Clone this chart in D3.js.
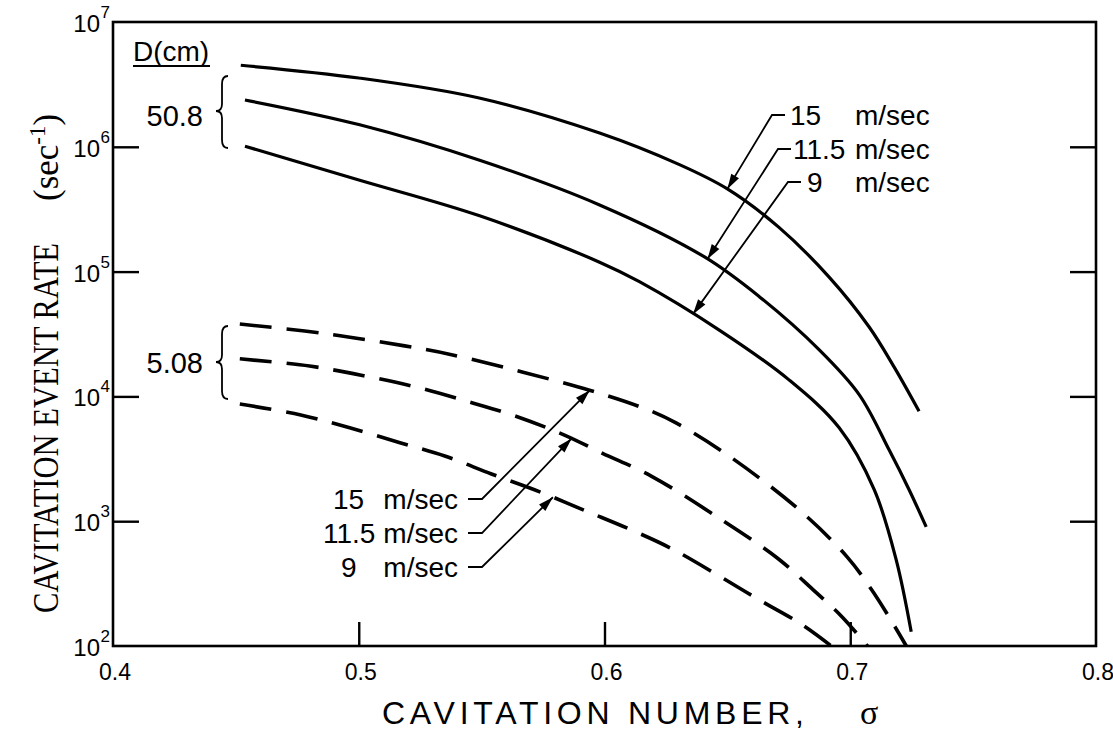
<!DOCTYPE html>
<html><head><meta charset="utf-8">
<script src="https://cdn.jsdelivr.net/npm/d3@7"></script>
<style>body{margin:0;background:#fff}</style>
</head><body><svg id="c" width="1113" height="741"></svg>
<script>
// ---------- data ----------
const xTicks = [0.4, 0.5, 0.6, 0.7, 0.8];
const xTickLabels = ["0.4", "0.5", "0.6", "0.7", "0.8"];
const yTicks = [1e2, 1e3, 1e4, 1e5, 1e6, 1e7];
const yTickExps = ["2", "3", "4", "5", "6", "7"];
const speeds = ["15", "11.5", "9"];
const diameters = ["50.8", "5.08"];

// D = 50.8 cm (solid)
const sigmaL15 = [0.452, 0.500, 0.549, 0.598, 0.6305, 0.650, 0.671, 0.6915, 0.7077, 0.718, 0.728];
const rateL15  = [4.5e6, 3.56e6, 2.46e6, 1.29e6, 7.2e5, 4.6e5, 2.26e5, 9.0e4, 3.6e4, 1.7e4, 7.6e3];
const sigmaL11 = [0.4537, 0.5004, 0.5492, 0.598, 0.6407, 0.663, 0.6874, 0.7037, 0.7159, 0.724, 0.7309];
const rateL11  = [2.37e6, 1.5e6, 7.8e5, 3.42e5, 1.31e5, 6.3e4, 2.36e4, 1.03e4, 3.7e3, 1.78e3, 9.0e2];
const sigmaL9  = [0.4537, 0.5004, 0.5492, 0.598, 0.6142, 0.6467, 0.6752, 0.6955, 0.7098, 0.7187, 0.7248];
const rateL9   = [1.01e6, 5.4e5, 2.8e5, 1.19e5, 8.3e4, 3.4e4, 1.35e4, 5.6e3, 1.78e3, 4.9e2, 1.3e2];

// D = 5.08 cm (dashed)
const sigmaS15 = [0.4516, 0.478, 0.4984, 0.5187, 0.5382, 0.5939, 0.617, 0.6293, 0.65, 0.6793, 0.6988, 0.7085, 0.717, 0.7228];
const rateS15  = [3.8e4, 3.34e4, 2.94e4, 2.54e4, 2.15e4, 1.12e4, 7.9e3, 6.1e3, 3.4e3, 1.23e3, 516, 286, 156, 100];
const sigmaS11 = [0.4516, 0.480, 0.5024, 0.5232, 0.5443, 0.5634, 0.5837, 0.5992, 0.619, 0.6447, 0.6703, 0.6846, 0.6967, 0.707];
const rateS11  = [2.0e4, 1.75e4, 1.46e4, 1.19e4, 9.1e3, 7.0e3, 4.9e3, 3.5e3, 2.3e3, 1.12e3, 507, 286, 171, 100];
const sigmaS9  = [0.4516, 0.4764, 0.4963, 0.5171, 0.535, 0.554, 0.574, 0.5923, 0.611, 0.6268, 0.646, 0.663, 0.680, 0.6923];
const rateS9   = [8.7e3, 7.1e3, 5.6e3, 4.24e3, 3.33e3, 2.39e3, 1.71e3, 1.21e3, 850, 610, 371, 234, 150, 100];

// arrow targets (sigma on each curve)
const arrowSigmaL = [0.650, 0.6419, 0.636];
const arrowSigmaS = [0.594, 0.5866, 0.579];

// ---------- chart ----------
const svg = d3.select("#c");
const L = 113, R = 1096, T = 22, B = 646;
const x = d3.scaleLinear().domain([0.4, 0.8]).range([L, R]);
const y = d3.scaleLog().domain([1e2, 1e7]).range([B, T]);
const sans = "'Liberation Sans', Arial, Helvetica, sans-serif";
const serif = "'Liberation Serif', 'Times New Roman', serif";

const zip = (s, r) => s.map((v, i) => ({s: v, r: r[i]}));
const line = d3.line().x(d => x(d.s)).y(d => y(d.r)).curve(d3.curveCatmullRom.alpha(0.5));

const plot = svg.append("g");
plot.selectAll("path.sol").data([zip(sigmaL15, rateL15), zip(sigmaL11, rateL11), zip(sigmaL9, rateL9)])
  .enter().append("path").attr("class", "sol").attr("d", line)
  .attr("fill", "none").attr("stroke", "#000").attr("stroke-width", 3.2);
plot.selectAll("path.dash").data([zip(sigmaS15, rateS15), zip(sigmaS11, rateS11), zip(sigmaS9, rateS9)])
  .enter().append("path").attr("class", "dash").attr("d", line)
  .attr("fill", "none").attr("stroke", "#000").attr("stroke-width", 3.6)
  .attr("stroke-dasharray", "32,15");

// frame
svg.append("rect").attr("x", L).attr("y", T).attr("width", R - L).attr("height", B - T)
  .attr("fill", "none").attr("stroke", "#000").attr("stroke-width", 2.6);

// axes (inward ticks)
const xAxis = d3.axisBottom(x).tickValues(xTicks.slice(1, -1)).tickSize(-24).tickFormat("");
const gx = svg.append("g").attr("transform", `translate(0,${B})`).call(xAxis);
const yAxisL = d3.axisLeft(y).tickValues(yTicks.slice(1, -1)).tickSize(-26).tickFormat("");
const gyl = svg.append("g").attr("transform", `translate(${L},0)`).call(yAxisL);
const yAxisR = d3.axisRight(y).tickValues(yTicks.slice(1, -1)).tickSize(-26).tickFormat("");
const gyr = svg.append("g").attr("transform", `translate(${R},0)`).call(yAxisR);
[gx, gyl, gyr].forEach(g => {
  g.select(".domain").remove();
  g.selectAll(".tick line").attr("stroke", "#000").attr("stroke-width", 2.4);
});

// x tick labels
svg.append("g").selectAll("text").data(xTicks).enter().append("text")
  .attr("x", d => x(d) + 2).attr("y", 680).attr("text-anchor", "middle")
  .attr("font-family", sans).attr("font-size", 23).text((d, i) => xTickLabels[i]);

// y tick labels 10^n
const yl = svg.append("g").selectAll("text").data(yTicks).enter().append("text")
  .attr("font-family", sans).attr("font-size", 24)
  .attr("text-anchor", "end");
yl.each(function(d, i) {
  const t = d3.select(this);
  t.append("tspan").attr("x", 100).attr("y", y(d) + 10).text("10");
  t.append("tspan").attr("font-size", 17).attr("x", 110).attr("y", y(d) - 4).text(yTickExps[i]);
});

// axis titles
svg.append("text").attr("x", 382).attr("y", 724).attr("font-family", sans).attr("font-size", 32)
  .attr("textLength", 422).attr("lengthAdjust", "spacing").text("CAVITATION  NUMBER,");
svg.append("text").attr("x", 860).attr("y", 724).attr("font-family", serif).attr("font-size", 34).text("σ");

const yt = svg.append("g").attr("transform", "translate(58,613) rotate(-90)");
yt.append("text").attr("x", 0).attr("y", 0).attr("font-family", serif).attr("font-size", 35)
  .attr("textLength", 370).attr("lengthAdjust", "spacingAndGlyphs").text("CAVITATION EVENT RATE");
const ys = yt.append("text").attr("x", 412).attr("y", 0).attr("font-family", serif).attr("font-size", 35);
ys.append("tspan").text("(sec");
ys.append("tspan").attr("dy", -13).attr("font-size", 23).text("-1");
ys.append("tspan").attr("dy", 13).text(")");

// D(cm) header & braces
svg.append("text").attr("x", 133).attr("y", 61).attr("font-family", sans).attr("font-size", 28).text("D(cm)");
svg.append("line").attr("x1", 133).attr("x2", 210).attr("y1", 66).attr("y2", 66).attr("stroke", "#000").attr("stroke-width", 2);

function brace(xt, y1, yc, y2) {
  const xr = xt + 12, xm = xt + 6;
  return `M${xr},${y1} Q${xm},${y1} ${xm},${y1 + 8} L${xm},${yc - 7} Q${xm},${yc} ${xt},${yc} Q${xm},${yc} ${xm},${yc + 7} L${xm},${y2 - 8} Q${xm},${y2} ${xr},${y2}`;
}
svg.append("path").attr("d", brace(216, 76, 111, 148)).attr("fill", "none").attr("stroke", "#000").attr("stroke-width", 1.8);
svg.append("path").attr("d", brace(216, 326, 362, 399)).attr("fill", "none").attr("stroke", "#000").attr("stroke-width", 1.8);
svg.append("text").attr("x", 203).attr("y", 126).attr("text-anchor", "end").attr("font-family", sans).attr("font-size", 29).text(diameters[0]);
svg.append("text").attr("x", 203).attr("y", 373).attr("text-anchor", "end").attr("font-family", sans).attr("font-size", 29).text(diameters[1]);

// arrows
function interp(sig, arrS, arrR) {
  for (let i = 0; i < arrS.length - 1; i++) {
    if (sig >= arrS[i] && sig <= arrS[i + 1]) {
      const t = (sig - arrS[i]) / (arrS[i + 1] - arrS[i]);
      return Math.pow(10, Math.log10(arrR[i]) + t * (Math.log10(arrR[i + 1]) - Math.log10(arrR[i])));
    }
  }
  return arrR[0];
}
function arrow(pts) {
  svg.append("path").attr("d", d3.line()(pts)).attr("fill", "none").attr("stroke", "#000").attr("stroke-width", 1.8);
  const [a, b] = [pts[pts.length - 2], pts[pts.length - 1]];
  const ang = Math.atan2(b[1] - a[1], b[0] - a[0]);
  const len = 15, w = 4.5;
  const bx = b[0] - len * Math.cos(ang), by = b[1] - len * Math.sin(ang);
  const p1 = [bx + w * Math.sin(ang), by - w * Math.cos(ang)];
  const p2 = [bx - w * Math.sin(ang), by + w * Math.cos(ang)];
  svg.append("path").attr("d", `M${b[0]},${b[1]}L${p1[0]},${p1[1]}L${p2[0]},${p2[1]}Z`).attr("fill", "#000");
}
const solidSets = [[sigmaL15, rateL15], [sigmaL11, rateL11], [sigmaL9, rateL9]];
const dashSets = [[sigmaS15, rateS15], [sigmaS11, rateS11], [sigmaS9, rateS9]];
const solidLabelY = [115, 149, 182];
const solidCornerX = [772, 778, 788];
const solidNumX = [790, 793, 807];
solidSets.forEach((set, i) => {
  const sg = arrowSigmaL[i];
  const tip = [x(sg), y(interp(sg, set[0], set[1]))];
  arrow([[solidCornerX[i] + 13, solidLabelY[i]], [solidCornerX[i], solidLabelY[i]], tip]);
  svg.append("text").attr("x", solidNumX[i]).attr("y", solidLabelY[i] + 10).attr("font-family", sans).attr("font-size", 28).text(speeds[i]);
  svg.append("text").attr("x", 855).attr("y", solidLabelY[i] + 10).attr("font-family", sans).attr("font-size", 28).text("m/sec");
});
const dashLabelY = [499, 533, 567];
const dashNumX = [333, 323, 341];
dashSets.forEach((set, i) => {
  const sg = arrowSigmaS[i];
  const tip = [x(sg), y(interp(sg, set[0], set[1]))];
  arrow([[468, dashLabelY[i]], [482, dashLabelY[i]], tip]);
  svg.append("text").attr("x", dashNumX[i]).attr("y", dashLabelY[i] + 10).attr("font-family", sans).attr("font-size", 28).text(speeds[i]);
  svg.append("text").attr("x", 458).attr("y", dashLabelY[i] + 10).attr("text-anchor", "end").attr("font-family", sans).attr("font-size", 28).text("m/sec");
});
</script></body></html>
